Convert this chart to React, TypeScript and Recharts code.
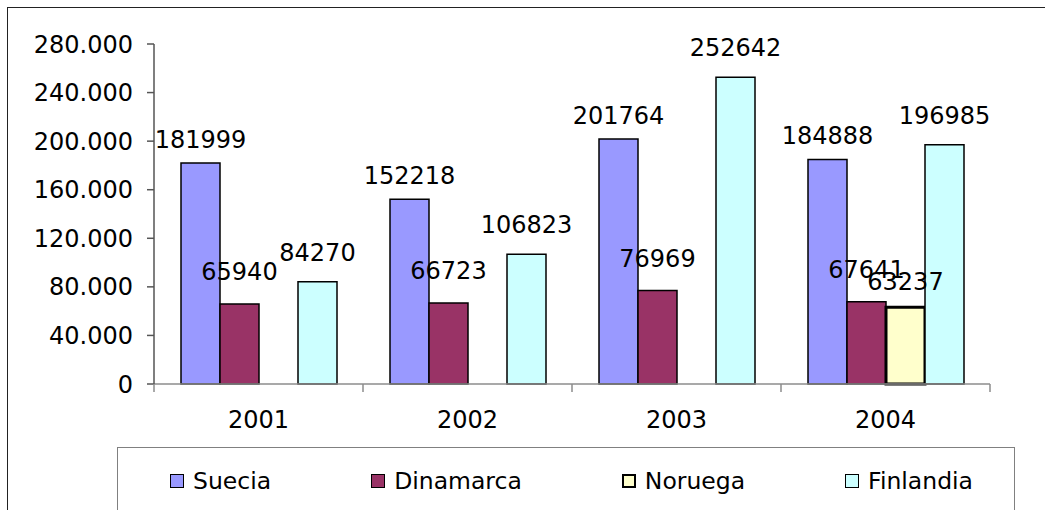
import React from 'react';
import { BarChart, Bar, XAxis, YAxis, LabelList, Legend } from 'recharts';

const categories = ['2001', '2002', '2003', '2004'];
const suecia = [181999, 152218, 201764, 184888];
const dinamarca = [65940, 66723, 76969, 67641];
const noruega: (number | null)[] = [null, null, null, 63237];
const finlandia = [84270, 106823, 252642, 196985];
const yTicks = [0, 40000, 80000, 120000, 160000, 200000, 240000, 280000];

const seriesInfo = [
  { key: 'Suecia', fill: '#9999FF', sw: 1.5, labelOffset: 15 },
  { key: 'Dinamarca', fill: '#993366', sw: 1.5, labelOffset: 24 },
  { key: 'Noruega', fill: '#FFFFCC', sw: 3, labelOffset: 17 },
  { key: 'Finlandia', fill: '#CCFFFF', sw: 1.5, labelOffset: 21 },
];

const data = categories.map((c, i) => ({
  year: c,
  Suecia: suecia[i],
  Dinamarca: dinamarca[i],
  Noruega: noruega[i],
  Finlandia: finlandia[i],
}));

const FONT = '"DejaVu Sans", Arial, sans-serif';

const fmt = (v: number) => String(v).replace(/\B(?=(\d{3})+(?!\d))/g, '.');

const CategoryTick = (props: any) => {
  const { x, y, payload, index, width } = props;
  const half =
    payload && typeof payload.offset === 'number' && payload.offset > 0
      ? payload.offset
      : width / categories.length / 2;
  return (
    <g>
      <line x1={x - half} y1={y} x2={x - half} y2={y + 8} stroke="#8c8c8c" strokeWidth={1.5} />
      {index === categories.length - 1 && (
        <line x1={x + half} y1={y} x2={x + half} y2={y + 8} stroke="#8c8c8c" strokeWidth={1.5} />
      )}
      <text x={x} y={y + 44} textAnchor="middle" fontSize={24} fontFamily={FONT} fill="#000">
        {payload.value}
      </text>
    </g>
  );
};

const LegendContent = () => (
  <div
    style={{
      position: 'absolute',
      left: 0,
      top: 0,
      width: 898,
      height: 90,
      border: '1.5px solid #808080',
      boxSizing: 'border-box',
      background: '#fff',
    }}
  >
    <div
      style={{
        display: 'flex',
        alignItems: 'center',
        gap: 100,
        paddingLeft: 52,
        marginTop: 19,
        fontFamily: FONT,
        fontSize: 23.5,
        color: '#000',
        whiteSpace: 'nowrap',
      }}
    >
      {seriesInfo.map((s) => (
        <div key={s.key} style={{ display: 'flex', alignItems: 'center' }}>
          <span
            style={{
              display: 'inline-block',
              width: 14,
              height: 14,
              background: s.fill,
              border: `${s.sw === 3 ? 2.5 : 1.5}px solid #000`,
              boxSizing: 'border-box',
              marginRight: 9,
            }}
          />
          <span>{s.key}</span>
        </div>
      ))}
    </div>
  </div>
);

export default function App() {
  return (
    <div
      style={{
        position: 'absolute',
        left: 0,
        top: 0,
        width: 1045,
        height: 510,
        overflow: 'hidden',
        background: '#fff',
      }}
    >
      <div
        style={{
          position: 'absolute',
          left: 7,
          top: 7,
          width: 1200,
          height: 700,
          border: '1.5px solid #222',
          boxSizing: 'border-box',
        }}
      />
      <div style={{ position: 'absolute', left: 0, top: 0 }}>
        <BarChart
          width={1045}
          height={510}
          data={data}
          margin={{ top: 44, right: 55, left: 14, bottom: 0 }}
          barCategoryGap={27}
          barGap={0}
        >
          <XAxis
            dataKey="year"
            height={46}
            axisLine={{ stroke: '#8c8c8c', strokeWidth: 1.5 }}
            tickLine={false}
            tickSize={0}
            tickMargin={0}
            tick={<CategoryTick />}
            interval={0}
          />
          <YAxis
            width={140}
            domain={[0, 280000]}
            ticks={yTicks}
            interval={0}
            tickFormatter={fmt}
            axisLine={{ stroke: '#555', strokeWidth: 1.5 }}
            tickLine={{ stroke: '#555', strokeWidth: 1.5 }}
            tickSize={7}
            tickMargin={14}
            tick={{ fontSize: 24, fontFamily: FONT, fill: '#000' }}
          />
          <Legend
            verticalAlign="bottom"
            content={() => <LegendContent />}
            wrapperStyle={{ position: 'absolute', left: 117, top: 447, width: 898, height: 80, bottom: 'auto' }}
          />
          {seriesInfo.map((s) => (
            <Bar
              key={s.key}
              dataKey={s.key}
              fill={s.fill}
              stroke="#000"
              strokeWidth={s.sw}
              isAnimationActive={false}
            >
              <LabelList
                dataKey={s.key}
                position="top"
                offset={s.labelOffset}
                fontSize={24}
                fontFamily={FONT}
                fill="#000"
              />
            </Bar>
          ))}
        </BarChart>
      </div>
    </div>
  );
}
